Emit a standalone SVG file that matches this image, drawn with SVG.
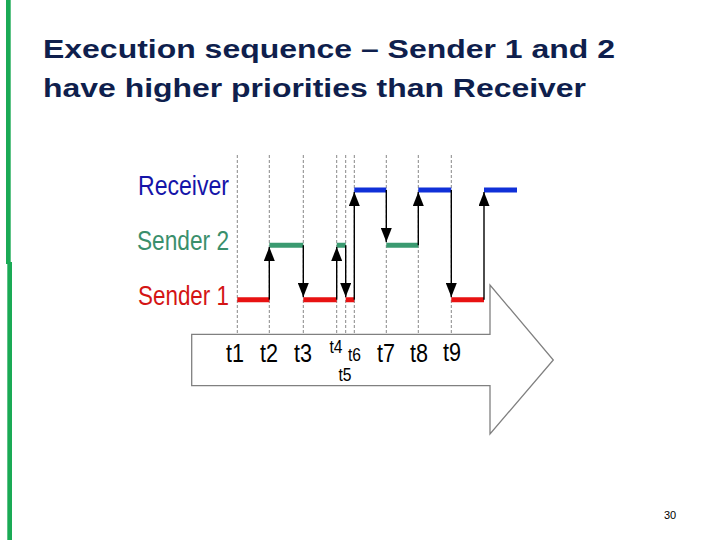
<svg xmlns="http://www.w3.org/2000/svg" width="720" height="540" viewBox="0 0 720 540">
<style>
.title{font-family:"Liberation Sans",Arial,sans-serif;font-weight:bold;font-size:26px;fill:#0f1f4d}
.lbl{font-family:"Liberation Sans",Arial,sans-serif;font-size:27px}
.t{font-family:"Liberation Sans",Arial,sans-serif;font-size:26px;fill:#000;text-anchor:middle}
.ts{font-family:"Liberation Sans",Arial,sans-serif;font-size:18px;fill:#000;text-anchor:middle}
.dash{stroke:#888;stroke-width:1;stroke-dasharray:3,2;fill:none}
.bar{stroke-width:5;fill:none}
.ar{stroke:#000;stroke-width:1.4;fill:none;marker-end:url(#ah)}
</style>
<defs>
<marker id="ah" markerUnits="userSpaceOnUse" markerWidth="14" markerHeight="11" viewBox="0 0 14 11" refX="14" refY="5.5" orient="auto">
<path d="M0,0 L14,5.5 L0,11 Z" fill="#000"/>
</marker>
</defs>
<rect width="720" height="540" fill="#fff"/>
<rect x="6" y="0" width="4.7" height="264" fill="#1aaa55"/>
<rect x="7.3" y="262" width="4.7" height="278" fill="#1aaa55"/>
<text class="title" x="43" y="58" textLength="572" lengthAdjust="spacingAndGlyphs">Execution sequence – Sender 1 and 2</text>
<text class="title" x="43" y="97" textLength="543" lengthAdjust="spacingAndGlyphs">have higher priorities than Receiver</text>

<g id="timeline-arrow">
<polygon points="191.7,334.3 490,334.3 490,285 553.3,360 490,434 490,385.7 191.7,385.7" fill="#fff" stroke="#808080" stroke-width="1.3"/>
</g>

<g id="gridlines">
<line class="dash" x1="237.3" y1="155" x2="237.3" y2="334"/>
<line class="dash" x1="269.3" y1="155" x2="269.3" y2="334"/>
<line class="dash" x1="303.3" y1="155" x2="303.3" y2="334"/>
<line class="dash" x1="336.7" y1="155" x2="336.7" y2="334"/>
<line class="dash" x1="345.7" y1="155" x2="345.7" y2="334"/>
<line class="dash" x1="354.3" y1="155" x2="354.3" y2="334"/>
<line class="dash" x1="386.3" y1="155" x2="386.3" y2="334"/>
<line class="dash" x1="418.3" y1="155" x2="418.3" y2="334"/>
<line class="dash" x1="451.3" y1="155" x2="451.3" y2="334"/>
</g>

<g id="receiver">
<text class="lbl" x="229" y="195" text-anchor="end" fill="#1414a8" textLength="91" lengthAdjust="spacingAndGlyphs">Receiver</text>
<path class="bar" stroke="#1030d8" d="M354.3,190H386.3M418.3,190H451.3M484,190H517"/>
</g>
<g id="sender2">
<text class="lbl" x="229" y="250" text-anchor="end" fill="#3a8f6c" textLength="92" lengthAdjust="spacingAndGlyphs">Sender 2</text>
<path class="bar" stroke="#3a9a70" d="M269.3,245.3H303.3M336.7,245.3H345.7M386.3,245.3H418.3"/>
</g>
<g id="sender1">
<text class="lbl" x="229" y="305" text-anchor="end" fill="#d41414" textLength="91" lengthAdjust="spacingAndGlyphs">Sender 1</text>
<path class="bar" stroke="#e81212" d="M237.3,299.7H269.3M303.3,299.7H336.7M345.7,299.7H354.3M451.3,299.7H484"/>
</g>

<g id="connectors">
<line class="ar" x1="269.3" y1="299.7" x2="269.3" y2="247"/>
<line class="ar" x1="303.3" y1="245.3" x2="303.3" y2="297"/>
<line class="ar" x1="336.7" y1="299.7" x2="336.7" y2="247"/>
<line class="ar" x1="345.7" y1="245.3" x2="345.7" y2="297"/>
<line class="ar" x1="354.3" y1="299.7" x2="354.3" y2="192"/>
<line class="ar" x1="386.3" y1="190" x2="386.3" y2="242"/>
<line class="ar" x1="418.3" y1="245.3" x2="418.3" y2="192"/>
<line class="ar" x1="451.3" y1="190" x2="451.3" y2="297"/>
<line class="ar" x1="484" y1="299.7" x2="484" y2="192"/>
</g>

<g id="labels">
<text class="t" x="235" y="362" textLength="18" lengthAdjust="spacingAndGlyphs">t1</text>
<text class="t" x="269" y="362" textLength="18" lengthAdjust="spacingAndGlyphs">t2</text>
<text class="t" x="303" y="362" textLength="18" lengthAdjust="spacingAndGlyphs">t3</text>
<text class="ts" x="336" y="353" textLength="13" lengthAdjust="spacingAndGlyphs">t4</text>
<text class="ts" x="354.5" y="361" textLength="13" lengthAdjust="spacingAndGlyphs">t6</text>
<text class="ts" x="345" y="381" textLength="13" lengthAdjust="spacingAndGlyphs">t5</text>
<text class="t" x="386" y="362" textLength="18" lengthAdjust="spacingAndGlyphs">t7</text>
<text class="t" x="419" y="362" textLength="18" lengthAdjust="spacingAndGlyphs">t8</text>
<text class="t" x="452" y="361" textLength="18" lengthAdjust="spacingAndGlyphs">t9</text>
</g>

<text x="670" y="519" font-family="Liberation Sans,Arial,sans-serif" font-size="11" text-anchor="middle" fill="#000">30</text>
</svg>
